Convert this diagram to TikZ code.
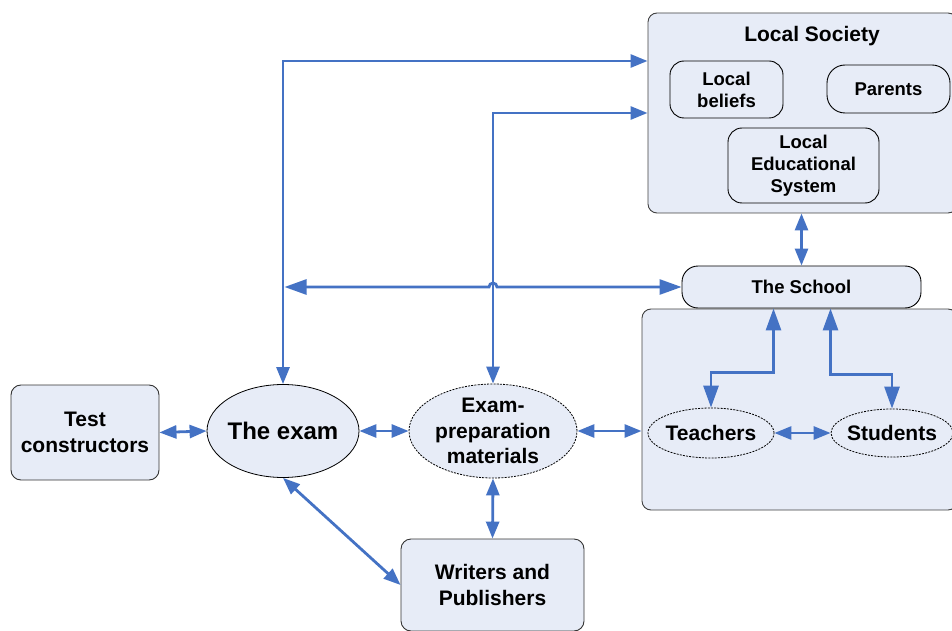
\documentclass[tikz,border=0pt]{standalone}
\usepackage{fontspec}
\setmainfont{Liberation Sans}
\usepackage{tikz}
\usetikzlibrary{positioning}
\usetikzlibrary{shapes.geometric,arrows.meta}
\definecolor{linkblue}{RGB}{68,114,196}
\definecolor{boxfill}{RGB}{231,236,247}
\newcommand{\txtmain}{\fontsize{21}{25.5}\selectfont\bfseries}
\newcommand{\txtsmall}{\fontsize{18.5}{22}\selectfont\bfseries}
\newcommand{\txtbig}{\fontsize{24}{28}\selectfont\bfseries}

\begin{document}
\begin{tikzpicture}[x=1pt,y=1pt,
  area/.style={draw=black!75,line width=0.9pt,fill=boxfill,rounded corners=9pt,inner sep=0pt},
  item/.style={draw=black,line width=0.9pt,fill=boxfill,rounded corners=14pt,
    align=center,font=\txtsmall,inner sep=0pt},
  actor/.style={draw=black!80,line width=0.9pt,fill=boxfill,rounded corners=10pt,
    align=center,font=\txtmain,inner sep=0pt},
  bubble/.style={ellipse,draw=black,line width=0.8pt,fill=boxfill,
    align=center,font=\txtmain,inner sep=-3pt},
  loose/.style={bubble,dash pattern=on 2pt off 1.2pt},
  link/.style={linkblue,line width=2.8pt,>={Triangle[length=17pt,width=13pt]},<->},
  biglink/.style={link,>={Triangle[length=22pt,width=15pt]}}]
  \path[use as bounding box,clip] (0,0) rectangle (952,630);

  % society and its parts
  \node[area,minimum width=309,minimum height=200] (society) at (802.5,517) {};
  \node[font=\txtmain] (soctitle) at (812,594) {Local Society};
  \node[item,minimum width=113,minimum height=57] (beliefs) at (726.5,540.5) {Local\\beliefs};
  \node[item,minimum width=123,minimum height=48,rounded corners=18pt] (parents) at (888.5,541) {Parents};
  \node[item,minimum width=151,minimum height=75] (edsys) at (803.5,464.5) {Local\\Educational\\System};

  % school and its people
  \node[area,minimum width=315,minimum height=201] (schoolbox) at (799.5,220.5) {};
  \node[item,minimum width=239,minimum height=42,rounded corners=16pt] (school) at (801.5,343) {The School};
  \node[loose,minimum width=126,minimum height=50] (teach) at (711,197) {Teachers};
  \node[loose,minimum width=122,minimum height=48] (stud) at (892,197) {Students};

  % exam side
  \node[actor,minimum width=148,minimum height=95] (test) at (85,197.5) {Test\\constructors};
  \node[bubble,font=\txtbig,minimum width=152,minimum height=93] (exam) at (283,199) {The exam};
  \node[loose,minimum width=168,minimum height=94] (prep) at (493,199) {Exam-\\preparation\\materials};
  \node[actor,minimum width=183,minimum height=92] (writers) at (492.5,45) {Writers and\\Publishers};

  % connectors
  \coordinate (hop) at (493,343);
  \coordinate (jn) at (284.5,343);
  \draw[link] (exam.north) |- ([yshift=52]society.west);
  \draw[link] (prep.north) |- (society.west);
  \draw[biglink] (school.west) -- ([xshift=4]hop) arc[start angle=0,end angle=180,radius=4] -- (jn);
  \draw[link] (school.north |- society.south) -- (school.north);
  \draw[biglink] ([xshift=-28]school.south) -- ++(0,-64) -| (teach.north);
  \draw[biglink] ([xshift=29]school.south) -- ++(0,-66) -| (stud.north);
  \draw[link] (teach.east) -- (stud.west);
  \draw[link] (test.east) -- (exam.west);
  \draw[link] (exam.east) -- (prep.west);
  \draw[link] (prep.east) -- (prep.east -| schoolbox.west);
  \draw[link] (exam.south) -- (writers.west);
  \draw[link] (prep.south) -- (writers.north);
\end{tikzpicture}
\end{document}
